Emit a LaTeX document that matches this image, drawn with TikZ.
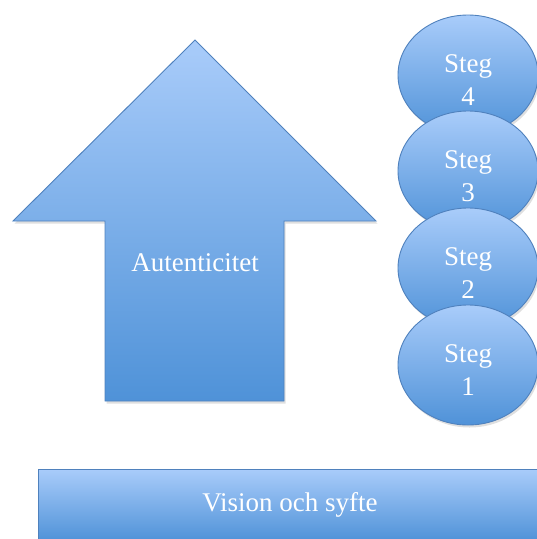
\documentclass[tikz,border=0pt]{standalone}
\usepackage{fontspec}
\setmainfont{Liberation Serif}
\usetikzlibrary{shapes.geometric,shadows}
\definecolor{boxtop}{HTML}{A9CCFA}
\definecolor{boxbottom}{HTML}{4F92D8}
\definecolor{boxline}{HTML}{4F81BD}
\tikzset{
	blueshape/.style={draw=boxline, line width=0.9pt, top color=boxtop, bottom color=boxbottom,
		drop shadow={opacity=0.25, shadow xshift=1.5pt, shadow yshift=-2.5pt}},
	stegnode/.style={blueshape, ellipse, minimum width=140pt, minimum height=120pt, inner sep=0pt},
	whitetext/.style={text=white, font=\fontsize{27}{33}\selectfont, align=center}
}

\begin{document}
\begin{tikzpicture}[x=1pt, y=-1pt]
		\useasboundingbox (0,0) rectangle (537,539);
		%%%%% START %%%%%
		
		% arrow
		\draw[blueshape] (195,40) -- (376,221) -- (284,221) -- (284,401) -- (105,401) -- (105,221) -- (13,221) -- cycle;
		\node[whitetext] (aut) at (195,263) {Autenticitet};
		
		% steps, top one first
		\foreach \n/\y in {4/75, 3/171, 2/268, 1/365}{
			\node[stegnode] (steg\n) at (468,\y) {};
			\node[whitetext] (stegtext\n) at ([yshift=-5pt]steg\n.center) {Steg\\\n};
		}
		
		% base
		\node[blueshape, whitetext, minimum width=504pt, minimum height=72pt] (vision) at (290,505) {Vision och syfte};
		
		%%%%% END %%%%%
\end{tikzpicture}
\end{document}
